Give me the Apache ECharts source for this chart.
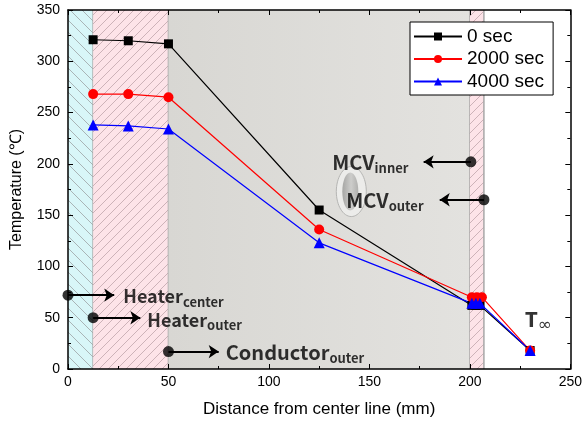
<!DOCTYPE html>
<html>
<head>
<meta charset="utf-8">
<script src="https://cdn.jsdelivr.net/npm/echarts@6/dist/echarts.min.js"></script>
<style>
  html, body { margin: 0; padding: 0; background: #fff; }
  #chart { width: 585px; height: 426px; }
</style>
</head>
<body>
<div id="chart"></div>
<script>
// data
const seriesNames = ['0 sec', '2000 sec', '4000 sec'];
const xSec0 = [12.5, 30, 50, 125, 201, 203, 205, 230];
const tSec0 = [321, 320, 317, 155, 62, 62, 62, 18];
const xSec2000 = [12.5, 30, 50, 125, 201, 203.5, 206, 230];
const tSec2000 = [268, 268, 265, 136, 70, 70, 70, 18];
const xSec4000 = [12.5, 30, 50, 125, 201, 203, 205, 230];
const tSec4000 = [238, 237, 234, 123, 64, 64, 64, 18];

// material regions (mm)
const regionBounds = [[0, 12.5], [12.5, 50], [50, 200], [200, 207]];

// annotation markers
const markerDots = [[0, 72], [12.5, 50], [50, 17], [200.5, 202], [207, 165]];
const arrowPairs = [
    [[0, 72], [23, 72]],
    [[12.5, 50], [36, 50]],
    [[50, 17], [75, 17]],
    [[200.5, 202], [177, 202]],
    [[207, 165], [185, 165]]
];
const annoText = [
    { pos: [27.5, 71], main: 'Heater', sub: 'center' },
    { pos: [39.5, 48], main: 'Heater', sub: 'outer' },
    { pos: [78.5, 16], main: 'Conductor', sub: 'outer' },
    { pos: [131.5, 201], main: 'MCV', sub: 'inner' },
    { pos: [138.5, 164], main: 'MCV', sub: 'outer' }
];
const tInfPos = [227.5, 47];
const ellipseCenter = [141, 173];

function hatch(bg, line, size, dir) {
    const c = document.createElement('canvas');
    c.width = size; c.height = size;
    const ctx = c.getContext('2d');
    ctx.fillStyle = bg;
    ctx.fillRect(0, 0, size, size);
    ctx.strokeStyle = line;
    ctx.lineWidth = 1;
    ctx.beginPath();
    if (dir > 0) {
        ctx.moveTo(0, size); ctx.lineTo(size, 0);
        ctx.moveTo(-1, 1); ctx.lineTo(1, -1);
        ctx.moveTo(size - 1, size + 1); ctx.lineTo(size + 1, size - 1);
    } else {
        ctx.moveTo(0, 0); ctx.lineTo(size, size);
        ctx.moveTo(size - 1, -1); ctx.lineTo(size + 1, 1);
        ctx.moveTo(-1, size - 1); ctx.lineTo(1, size + 1);
    }
    ctx.stroke();
    return c;
}

const fills = [
    { image: hatch('#d8f6f8', '#a9b4b6', 12, -1), repeat: 'repeat' },
    { image: hatch('#fde3e8', '#cdb2b8', 9, 1), repeat: 'repeat' },
    new echarts.graphic.LinearGradient(0, 0, 1, 0, [
        { offset: 0, color: '#d8d7d3' },
        { offset: 1, color: '#e3e2df' }
    ]),
    { image: hatch('#fde3e8', '#cdb2b8', 9, 1), repeat: 'repeat' }
];

// label font size per annotation word
const annoFontSize = { Heater: 18, Conductor: 20, MCV: 20 };

const zip = (xs, ys) => xs.map((x, i) => [x, ys[i]]);

const chart = echarts.init(document.getElementById('chart'));

const axisCommon = {
    type: 'value',
    axisLine: { show: true, onZero: false, lineStyle: { color: '#000', width: 1.5 } },
    axisTick: { show: true, inside: true, length: 5, lineStyle: { color: '#000' } },
    minorTick: { show: true, splitNumber: 2, length: 3, lineStyle: { color: '#000' } },
    splitLine: { show: false },
    axisLabel: { color: '#000', fontSize: 14, fontFamily: 'Liberation Sans' }
};

const option = {
    animation: false,
    grid: { left: 68, right: 14, top: 10, bottom: 57 },
    legend: {
        data: seriesNames,
        orient: 'vertical',
        left: 410,
        top: 22,
        padding: [5, 9, 4, 3],
        backgroundColor: '#fff',
        borderColor: '#000',
        borderWidth: 1,
        borderRadius: 0,
        itemWidth: 48,
        itemHeight: 10,
        itemGap: 3.5,
        textStyle: { color: '#000', fontSize: 19, fontFamily: 'Liberation Sans', lineHeight: 19 }
    },
    xAxis: [
        Object.assign({}, axisCommon, {
            min: 0, max: 250, interval: 50,
            name: 'Distance from center line (mm)',
            nameLocation: 'middle',
            nameGap: 32,
            nameTextStyle: { color: '#000', fontSize: 17, fontFamily: 'Liberation Sans' },
            axisLabel: Object.assign({}, axisCommon.axisLabel, { margin: 6 })
        }),
        Object.assign({}, axisCommon, {
            min: 0, max: 250, interval: 50, position: 'top',
            axisLabel: { show: false }
        })
    ],
    yAxis: [
        Object.assign({}, axisCommon, {
            min: 0, max: 350, interval: 50,
            name: 'Temperature (℃)',
            nameLocation: 'middle',
            nameGap: 43,
            nameTextStyle: { color: '#000', fontSize: 16, fontFamily: 'Liberation Sans' },
            axisLabel: Object.assign({}, axisCommon.axisLabel, { margin: 8 })
        }),
        Object.assign({}, axisCommon, {
            min: 0, max: 350, interval: 50, position: 'right',
            axisLabel: { show: false }
        })
    ],
    series: [
        {
            type: 'custom',
            z: 0,
            silent: true,
            data: regionBounds.map((r, i) => [r[0], r[1], i]),
            renderItem: function (params, api) {
                const p0 = api.coord([api.value(0), 350]);
                const p1 = api.coord([api.value(1), 0]);
                const idx = api.value(2);
                const children = [{
                    type: 'rect',
                    shape: { x: p0[0], y: p0[1], width: p1[0] - p0[0], height: p1[1] - p0[1] },
                    style: { fill: fills[idx] }
                }, {
                    type: 'line',
                    shape: { x1: p1[0], y1: p0[1], x2: p1[0], y2: p1[1] },
                    style: { stroke: '#a8a8a8', lineWidth: 1.5 }
                }];
                if (idx === 2) {
                    const c = api.coord(ellipseCenter);
                    children.push({
                        type: 'ellipse',
                        shape: { cx: c[0], cy: c[1], rx: 15, ry: 25 },
                        style: { fill: '#ececea', stroke: '#b5b5b3', lineWidth: 1 }
                    });
                    children.push({
                        type: 'ellipse',
                        shape: { cx: c[0] - 1, cy: c[1], rx: 8, ry: 19 },
                        style: {
                            fill: new echarts.graphic.LinearGradient(0, 0, 1, 0, [
                                { offset: 0, color: '#a6a6a4' },
                                { offset: 0.55, color: '#cdcdcb' },
                                { offset: 1, color: '#b0b0ae' }
                            ])
                        }
                    });
                }
                return { type: 'group', children: children };
            }
        },
        {
            name: seriesNames[0],
            type: 'line',
            z: 5,
            data: zip(xSec0, tSec0),
            symbol: 'rect',
            symbolSize: 9,
            itemStyle: { color: '#000' },
            lineStyle: { color: '#000', width: 1.2 }
        },
        {
            name: seriesNames[1],
            type: 'line',
            z: 5,
            data: zip(xSec2000, tSec2000),
            symbol: 'circle',
            symbolSize: 10,
            itemStyle: { color: '#ff0000' },
            lineStyle: { color: '#ff0000', width: 1.2 }
        },
        {
            name: seriesNames[2],
            type: 'line',
            z: 5,
            data: zip(xSec4000, tSec4000),
            symbol: 'triangle',
            symbolSize: 11,
            itemStyle: { color: '#0000ff' },
            lineStyle: { color: '#0000ff', width: 1.2 }
        },
        {
            type: 'lines',
            coordinateSystem: 'cartesian2d',
            z: 6,
            silent: true,
            symbol: ['none', 'arrow'],
            symbolSize: 10,
            lineStyle: { color: '#000', width: 2, opacity: 1 },
            data: arrowPairs.map(p => ({ coords: p }))
        },
        {
            type: 'scatter',
            z: 7,
            silent: true,
            symbol: 'circle',
            symbolSize: 11,
            itemStyle: { color: '#000' },
            data: markerDots
        },
        {
            type: 'scatter',
            z: 7,
            silent: true,
            symbolSize: 0,
            data: annoText.map(a => ({
                value: a.pos,
                label: {
                    formatter: '{m|' + a.main + '}{s|' + a.sub + '}',
                    rich: {
                        m: {
                            fontSize: annoFontSize[a.main], fontWeight: 'bold',
                            color: '#000', fontFamily: 'Noto Sans CJK KR'
                        }
                    }
                }
            })),
            label: {
                show: true,
                position: 'right',
                distance: 0,
                rich: {
                    m: { fontSize: 18, fontWeight: 'bold', color: '#000', fontFamily: 'Noto Sans CJK KR' },
                    s: { fontSize: 13, fontWeight: 'bold', color: '#000', fontFamily: 'Noto Sans CJK KR', padding: [11, 0, 0, 0] }
                }
            }
        },
        {
            type: 'scatter',
            z: 7,
            silent: true,
            symbolSize: 0,
            data: [tInfPos],
            label: {
                show: true,
                position: 'right',
                distance: 0,
                formatter: '{m|T}{s|∞}',
                rich: {
                    m: { fontSize: 22, fontWeight: 'bold', color: '#000', fontFamily: 'Noto Sans' },
                    s: { fontSize: 17, color: '#000', fontFamily: 'DejaVu Sans', padding: [10, 0, 0, 0] }
                }
            }
        }
    ]
};

chart.setOption(option);
window.addEventListener('resize', () => {
    chart.resize();
});
</script>
</body>
</html>
